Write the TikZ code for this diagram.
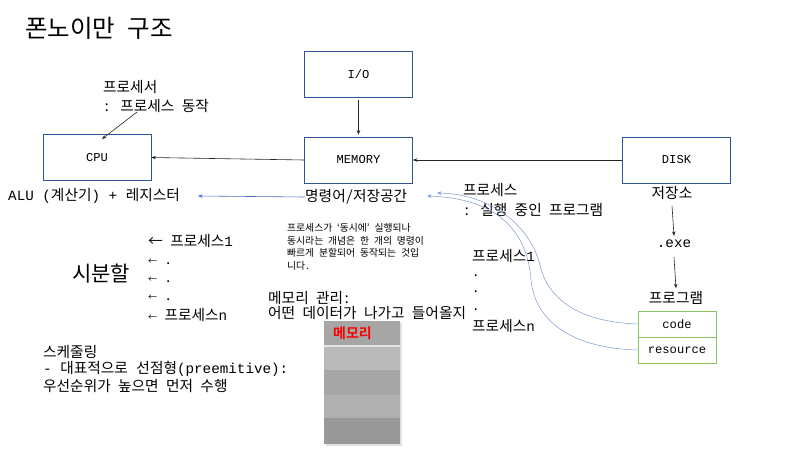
\documentclass[tikz,border=0pt]{standalone}
\usepackage{fontspec}
\setmainfont{Noto Sans Mono CJK KR}
\newfontfamily\latfont[Scale=0.97]{Liberation Mono}
\newcommand{\lat}[1]{{\latfont #1}}
\usetikzlibrary{arrows.meta}
\definecolor{boxblue}{HTML}{2F5597}
\definecolor{lineblue}{HTML}{4472C4}
\definecolor{curveblue}{HTML}{7C9BD6}
\definecolor{boxgreen}{HTML}{8CC461}
\tikzset{
  box/.style={draw=boxblue, line width=0.8pt, minimum width=108pt, minimum height=46pt, inner sep=0pt, font=\fontsize{12.5}{15}\selectfont\latfont},
  txt/.style={anchor=west, inner sep=0pt, font=\fontsize{14.7}{16}\selectfont},
  ctxt/.style={inner sep=0pt, font=\fontsize{14.7}{16}\selectfont},
  small/.style={anchor=north west, inner sep=0pt, align=left, font=\fontsize{9.8}{12.7}\selectfont},
  arr/.style={-{Stealth[length=4.5pt,width=3.5pt]}, line width=0.6pt, black!85},
  barr/.style={-{Stealth[length=4.5pt,width=3.5pt]}, line width=0.6pt, lineblue},
  carr/.style={-{Stealth[length=4.5pt,width=3.5pt]}, line width=0.5pt, curveblue},
  cbox/.style={draw=boxgreen, line width=1pt, minimum width=78pt, minimum height=26pt, inner sep=0pt, font=\fontsize{12.5}{15}\selectfont\latfont},
}
\begin{document}
\begin{tikzpicture}[x=1pt,y=-1pt]
\useasboundingbox (0,0) rectangle (800,450);
\fill[white] (0,0) rectangle (800,450);
% title
\node[txt, font=\fontsize{24.5}{26}\selectfont] (title) at (25,28) {폰노이만 구조};
% boxes
\node[box] (cpu) at (97,157.5) {CPU};
\node[box] (io) at (358.5,74) {I/O};
\node[box] (mem) at (358.5,160) {MEMORY};
\node[box] (disk) at (676.5,160) {DISK};
\draw[arr] ([yshift=-3pt]io.south) -- ([yshift=2pt]mem.north);
\draw[arr] (mem.west) -- (cpu.east);
\draw[arr] (disk.west) -- (mem.east);
% processor label
\node[txt] (proc1) at (103,87) {프로세서};
\node[txt] (proc2) at (103,106) {: 프로세스 동작};
\coordinate (procstart) at (137,112);
\coordinate (proctip) at (102,139);
\draw[arr] (procstart) -- (proctip);
% ALU
\node[txt] (alu) at (8,196) {\lat{ALU (}계산기\lat{) + }레지스터};
\node[txt] (instr) at (305,197) {명령어/저장공간};
\coordinate (alutip) at (198,196);
\draw[barr] (instr.west) -- (alutip);
% process label
\node[txt] (pr1) at (463,190) {프로세스};
\node[txt] (pr2) at (463,210) {: 실행 중인 프로그램};
% disk chain
\node[ctxt] (store) at (672,193) {저장소};
\node[ctxt] (exe) at (674,244) {\lat{.exe}};
\node[ctxt] (prog) at (676,298) {프로그램};
\draw[arr] ([yshift=-6pt]store.south) -- ([yshift=4pt]exe.north);
\draw[arr] ([yshift=-9pt]exe.south) -- ([yshift=3pt]prog.north);
\node[cbox] (code) at (677,324) {code};
\node[cbox] (res) at (677,350) {resource};
% curves
\coordinate (tipA) at (437,193);
\coordinate (tipB) at (427,196);
\draw[carr] (code.west) .. controls (580,322) and (548,300) .. (540,265) .. controls (530,225) and (490,194) .. (tipA);
\draw[carr] (res.west) .. controls (570,348) and (535,320) .. (531,280) .. controls (527,225) and (490,198) .. (tipB);
% small text
\node[small] (note) at (287,223) {프로세스가 ‘동시에’ 실행되나\\동시라는 개념은 한 개의 명령이\\빠르게 분할되어 동작되는 것입\\니다.};
% memory management
\node[txt] (mm1) at (268,298) {메모리 관리:};
\node[txt] (mm2) at (268,313) {어떤 데이터가 나가고 들어올지};
% memory stack
\fill[black!12] (326,323) rectangle (402,446);
\fill[black!35] (324,321) rectangle (400,345);
\fill[white!90!black] (324,345) rectangle (400,347);
\fill[black!27] (324,347) rectangle (400,370);
\fill[black!35] (324,370) rectangle (400,395);
\fill[black!31] (324,395) rectangle (400,418);
\fill[black!40] (324,418) rectangle (400,444);
\node[txt, text=red, font=\fontsize{14}{15}\selectfont\bfseries] (memlabel) at (333,333) {메모리};
% left list
\node[txt] (l1) at (148,241) {← 프로세스\lat{1}};
\node[txt] (l2) at (148,262) {{\fontsize{9}{10}\selectfont ←} .};
\node[txt] (l3) at (148,280) {{\fontsize{9}{10}\selectfont ←} .};
\node[txt] (l4) at (148,298) {{\fontsize{9}{10}\selectfont ←} .};
\node[txt] (l5) at (148,315) {{\fontsize{9}{10}\selectfont ←} 프로세스\lat{n}};
\node[txt, font=\fontsize{21}{23}\selectfont] (tsplit) at (72,274) {시분할};
% scheduling
\node[txt] (s1) at (43,352) {스케줄링};
\node[txt] (s2) at (43,369) {\lat{- }대표적으로\lat{ }선점형\lat{(preemitive):}};
\node[txt] (s3) at (43,386) {우선순위가 높으면 먼저 수행};
% right list
\node[txt] (r1) at (472,256) {프로세스\lat{1}};
\node[txt] (r2) at (472,276) {.};
\node[txt] (r3) at (472,292) {.};
\node[txt] (r4) at (472,310) {.};
\node[txt] (r5) at (472,326) {프로세스\lat{n}};
\end{tikzpicture}
\end{document}
